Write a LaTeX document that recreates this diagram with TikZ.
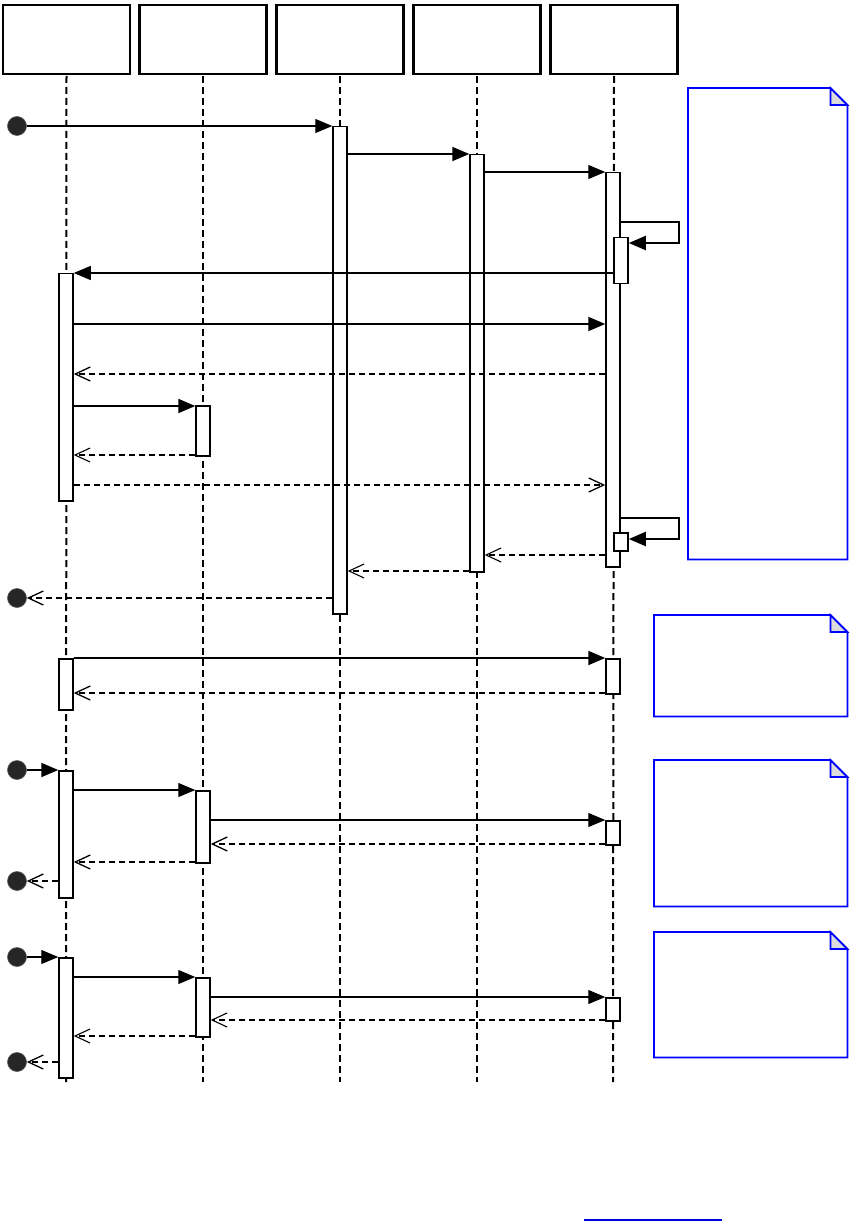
\documentclass[tikz,border=0pt]{standalone}
\usetikzlibrary{arrows.meta,calc}
\tikzset{
  hdr/.style={draw, line width=2.4pt, minimum width=127pt, minimum height=69pt, inner sep=0pt},
  lifethick/.style={dash pattern=on 7pt off 4pt, line width=2pt},
  lifethin/.style={dash pattern=on 7pt off 4pt, line width=1.1pt},
  actbox/.style={draw, fill=white, line width=1.5pt, minimum width=14pt, inner sep=0pt},
  found/.style={circle, fill=black!85, draw=black!65, line width=0.6pt, minimum size=19pt, inner sep=0pt},
  syncthin/.style={line width=1.1pt, -{Triangle[length=17pt,width=14pt]}},
  syncthick/.style={line width=2pt, -{Triangle[length=17pt,width=14pt]}},
  retthin/.style={line width=1.1pt, dash pattern=on 6pt off 4pt, -{Straight Barb[length=15pt,width=14pt,line width=1.1pt]}},
  retthick/.style={line width=2pt, dash pattern=on 6pt off 4pt, -{Straight Barb[length=15pt,width=14pt,line width=1.3pt]}},
  notebox/.style={inner sep=0pt, anchor=north west},
  noteline/.style={draw=blue, line width=1.7pt, fill=white},
  notefold/.style={draw=blue, line width=1.7pt, fill=black!14, line join=miter}
}
\newcommand\actbar[4]{\node[actbox, minimum height={(#4-#3)*1pt}, anchor=north] (#1) at (#2,#3) {};}
\newcommand\drawnote[1]{%
  \draw[noteline] (#1.north west) -- ([xshift=-17pt]#1.north east) -- ([yshift=-17pt]#1.north east) -- (#1.south east) -- (#1.south west) -- cycle;
  \draw[notefold] ([xshift=-17pt]#1.north east) -- ([xshift=-17pt,yshift=-17pt]#1.north east) -- ([yshift=-17pt]#1.north east) -- cycle;}
\begin{document}
\begin{tikzpicture}[x=1pt,y=-1pt]
\useasboundingbox (0,0) rectangle (863,1222);
% headers
\node[hdr] (h1) at (66.5,39.5) {};
\node[hdr] (h2) at (203,39.5) {};
\node[hdr] (h3) at (340,39.5) {};
\node[hdr] (h4) at (477,39.5) {};
\node[hdr] (h5) at (614,39.5) {};
% lifeline ends
\coordinate (e1) at (66,1082);
\coordinate (e2) at (203,1082);
\coordinate (e3) at (340,1082);
\coordinate (e4) at (477,1082);
\coordinate (e5) at (613,1082);
\draw[lifethick] (h1.south |- 0,76) -- (e1);
\draw[lifethin] (h2.south |- 0,76) -- (e2);
\draw[lifethin] (h3.south |- 0,76) -- (e3);
\draw[lifethin] (h4.south |- 0,76) -- (e4);
\draw[lifethick] (h5.south |- 0,76) -- (e5);
% activation bars
\actbar{b3}{340}{126}{613}
\actbar{b4}{477}{154}{571}
\actbar{b5}{613}{172}{566}
\actbar{b5n}{621}{237}{283}
\actbar{b5m}{621}{532}{550}
\actbar{b1a}{66}{273}{500}
\actbar{b2a}{203}{405}{455}
\actbar{b1b}{66}{658}{709}
\actbar{b5b}{613}{658}{693}
\actbar{b1c}{66}{770}{897}
\actbar{b2c}{203}{790}{862}
\actbar{b5c}{613}{820}{844}
\actbar{b1d}{66}{957}{1077}
\actbar{b2d}{203}{977}{1036}
\actbar{b5d}{613}{997}{1020}
% found / lost points
\node[found] (f1) at (17,126) {};
\node[found] (f2) at (17,598) {};
\node[found] (f3) at (17,770) {};
\node[found] (f4) at (17,881) {};
\node[found] (f5) at (17,957) {};
\node[found] (f6) at (17,1062) {};
% self-call corners
\coordinate (s1a) at (679,222);
\coordinate (s1b) at (679,243);
\coordinate (s2a) at (679,518);
\coordinate (s2b) at (679,539);
% messages
\draw[syncthin] (f1.east) -- (b3.west |- f1);
\draw[syncthick] (b3.east |- 0,154) -- (b4.west |- 0,154);
\draw[syncthin] (b4.east |- 0,172) -- (b5.west |- 0,172);
\draw[syncthick] (b5.east |- s1a) -- (s1a) -- (s1b) -- (b5n.east |- s1b);
\draw[syncthin] (b5n.west |- 0,273) -- (b1a.east |- 0,273);
\draw[syncthick] (b1a.east |- 0,324) -- (b5.west |- 0,324);
\draw[retthick] (b5.west |- 0,374) -- (b1a.east |- 0,374);
\draw[syncthick] (b1a.east |- 0,406) -- (b2a.west |- 0,406);
\draw[retthin] (b2a.west |- 0,455) -- (b1a.east |- 0,455);
\draw[retthick] (b1a.east |- 0,485) -- (b5.west |- 0,485);
\draw[syncthick] (b5.east |- s2a) -- (s2a) -- (s2b) -- (b5m.east |- s2b);
\draw[retthin] (b5.west |- 0,555) -- (b4.east |- 0,555);
\draw[retthin] (b4.west |- 0,571) -- (b3.east |- 0,571);
\draw[retthick] (b3.west |- f2) -- (f2.east);
\draw[syncthick] (b1b.east |- 0,658) -- (b5b.west |- 0,658);
\draw[retthick] (b5b.west |- 0,693) -- (b1b.east |- 0,693);
\draw[syncthick] (f3.east) -- (b1c.west |- f3);
\draw[syncthin] (b1c.east |- 0,790) -- (b2c.west |- 0,790);
\draw[syncthin] (b2c.east |- 0,820) -- (b5c.west |- 0,820);
\draw[retthick] (b5c.west |- 0,844) -- (b2c.east |- 0,844);
\draw[retthick] (b2c.west |- 0,862) -- (b1c.east |- 0,862);
\draw[retthick] (b1c.west |- f4) -- (f4.east);
\draw[syncthin] (f5.east) -- (b1d.west |- f5);
\draw[syncthin] (b1d.east |- 0,977) -- (b2d.west |- 0,977);
\draw[syncthin] (b2d.east |- 0,997) -- (b5d.west |- 0,997);
\draw[retthin] (b5d.west |- 0,1020) -- (b2d.east |- 0,1020);
\draw[retthin] (b2d.west |- 0,1036) -- (b1d.east |- 0,1036);
\draw[retthick] (b1d.west |- f6) -- (f6.east);
% notes
\node[notebox, minimum width=159pt, minimum height=471pt] (n1) at (688,88) {};
\node[notebox, minimum width=193pt, minimum height=101pt] (n2) at (654,615) {};
\node[notebox, minimum width=193pt, minimum height=146pt] (n3) at (654,760) {};
\node[notebox, minimum width=193pt, minimum height=125pt] (n4) at (654,932) {};
\drawnote{n1}
\drawnote{n2}
\drawnote{n3}
\drawnote{n4}
% bottom line
\coordinate (u1) at (584,1220);
\coordinate (u2) at (722,1220);
\draw[blue!85!black, line width=1.5pt] (u1) -- (u2);
\end{tikzpicture}
\end{document}
